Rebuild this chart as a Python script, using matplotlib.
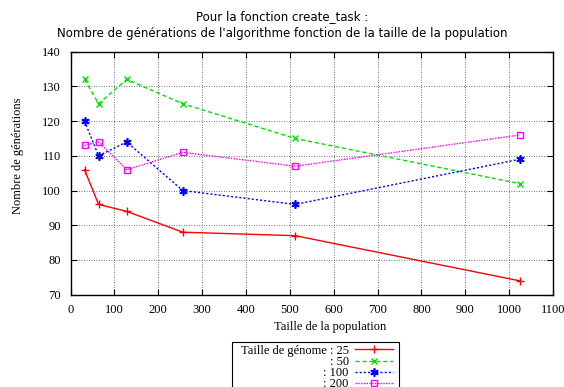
import matplotlib
matplotlib.use("Agg")
import matplotlib.pyplot as plt
from matplotlib.patches import Rectangle

# -----------------------------
# Data : generations vs population size, one series per genome size
# -----------------------------
population = [32, 64, 128, 256, 512, 1024]

gen_25 = [106, 96, 94, 88, 87, 74]
gen_50 = [132, 125, 132, 125, 115, 102]
gen_100 = [120, 110, 114, 100, 96, 109]
gen_200 = [113, 114, 106, 111, 107, 116]

legend_labels = ["Taille de génome : 25", ": 50", ": 100", ": 200"]

x_ticks = list(range(0, 1101, 100))
y_ticks = list(range(70, 141, 10))

# -----------------------------
# Figure
# -----------------------------
serif = "Liberation Serif"
fs = 9
W, H = 564, 387

fig = plt.figure(figsize=(W / 100, H / 100), dpi=100)
ax = fig.add_axes([0.125, 0.2385, 0.8555, 0.628])

ax.plot(population, gen_25, color="#ff0000", lw=1.0, ls="-",
        marker="+", ms=6, mew=1.0, label=legend_labels[0])
ax.plot(population, gen_50, color="#00e000", lw=1.0, ls=(0, (3, 2)),
        marker="x", ms=5, mew=1.0, label=legend_labels[1])
ax.plot(population, gen_100, color="#0000ff", lw=1.0, ls=(0, (1.5, 1.5)),
        marker=(6, 2, 0), ms=6, mew=1.2, label=legend_labels[2])
ax.plot(population, gen_200, color="#ff00ff", lw=1.0, ls=(0, (1, 1)),
        marker="s", ms=5, mew=1.0, mfc="none", label=legend_labels[3])

ax.set_xlim(0, 1100)
ax.set_ylim(70, 140)
ax.set_xticks(x_ticks)
ax.set_yticks(y_ticks)

ax.grid(True, color="#444444", lw=0.6, ls=(0, (1, 2)))
ax.tick_params(direction="in", length=4, width=0.8, top=True, right=True,
               labelsize=fs, pad=7)
for lab in ax.get_xticklabels() + ax.get_yticklabels():
    lab.set_fontfamily(serif)
for sp in ax.spines.values():
    sp.set_linewidth(1.0)

ax.set_xlabel("Taille de la population", fontsize=fs, fontfamily=serif)
ax.set_ylabel("Nombre de générations", fontsize=fs, fontfamily=serif)
ax.xaxis.set_label_coords(0.539, -0.108)
ax.yaxis.set_label_coords(-0.097, 0.573)

fig.text(0.5, 1 - 17 / H, "Pour la fonction create_task :",
         ha="center", va="center", fontsize=8.5, fontfamily="DejaVu Sans")
fig.text(0.5, 1 - 33 / H,
         "Nombre de générations de l'algorithme fonction de la taille de la population",
         ha="center", va="center", fontsize=8.5, fontfamily="DejaVu Sans")

# key box: text right-aligned before the line sample, frame drawn by hand
key_left, key_top = 232.3, 342.3
leg = fig.legend(loc="upper left", bbox_to_anchor=((key_left + 6) / W, 1 - key_top / H),
                 borderaxespad=0, markerfirst=False, frameon=False,
                 handlelength=3.0, handletextpad=0.5, labelspacing=-0.07,
                 borderpad=0.2, prop={"family": serif, "size": fs})

fig.canvas.draw()
bb = leg.get_window_extent()
key_right = bb.x1 + 4
fig.add_artist(Rectangle((key_left / W, bb.y0 / H),
                         (key_right - key_left) / W, (H - key_top - bb.y0) / H,
                         transform=fig.transFigure, fill=False,
                         edgecolor="black", lw=0.8, clip_on=False))

fig.savefig("out.png", dpi=100)
